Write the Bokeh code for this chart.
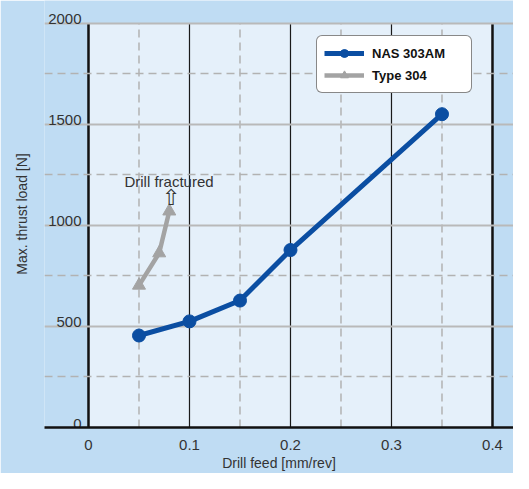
from bokeh.plotting import figure
from bokeh.models import Range1d, FixedTicker, Grid, BoxAnnotation, Label, Legend, LegendItem
from bokeh.core.properties import value
from bokeh.embed import file_html
from bokeh.resources import INLINE

# ---- data ----
feed_nas = [0.05, 0.10, 0.15, 0.20, 0.35]
load_nas = [455, 525, 628, 878, 1550]
feed_304 = [0.05, 0.07, 0.08]
load_304 = [703, 863, 1070]

x_ticks = [0, 0.1, 0.2, 0.3, 0.4]
x_tick_labels = ["0", "0.1", "0.2", "0.3", "0.4"]
y_ticks = [0, 500, 1000, 1500, 2000]
y_tick_labels = ["0", "500", "1000", "1500", "2000"]
x_minor = [0.05, 0.15, 0.25, 0.35]
y_minor = [250, 750, 1250, 1750]
x_inner = [0.1, 0.2, 0.3]
x_edges = [0, 0.4]
y_major_grid = [500, 1000, 1500, 2000]

series_names = ["NAS 303AM", "Type 304"]
note_text = "Drill fractured"
note_x, note_y = 0.0797, 1215
arrow_x, arrow_y = 0.0817, 1140

BG = "#bfdcf3"
PANEL = "#e5f0fa"
BLUE = "#0b4ea2"
GRAY = "#a3a3a3"
FONT = "Liberation Sans"
TXT = "#333333"

Y_MAX = y_ticks[-1]
p = figure(width=513, height=473, output_backend="svg", toolbar_location=None,
           x_range=Range1d(-0.04356, 0.4208), y_range=Range1d(0, 2112.5),
           min_border_left=44, min_border_right=0, min_border_top=0, min_border_bottom=41)
p.background_fill_color = BG
p.border_fill_color = BG
p.outline_line_color = None
p.grid.visible = False

# light panel
p.add_layout(BoxAnnotation(left=x_edges[0], right=x_edges[1], bottom=y_ticks[0], top=Y_MAX,
                           fill_color=PANEL, fill_alpha=1, line_color=None, level="image"))

def add_hgrid(ticks, color, width, dash="solid"):
    g = Grid(dimension=1, ticker=FixedTicker(ticks=ticks), grid_line_color=color,
             grid_line_width=width, grid_line_dash=dash)
    p.add_layout(g)

add_hgrid(y_minor, "#b2b2b2", 1.5, "8 5")
add_hgrid(y_major_grid, "#b9b9b9", 1.8)

def add_vlines(xs, color, width, dash="solid"):
    p.segment(x0=xs, y0=[y_ticks[0]] * len(xs), x1=xs, y1=[Y_MAX] * len(xs),
              line_color=color, line_width=width, line_dash=dash, level="underlay")

add_vlines(x_minor, "#b2b2b2", 1.5, "8 5")
add_vlines(x_inner, "#1a1a1a", 1.2)
add_vlines(x_edges, "#111111", 2.5)

# axes
xa = p.xaxis[0]
xa.ticker = FixedTicker(ticks=x_ticks)
xa.major_label_overrides = {t: l for t, l in zip(x_ticks, x_tick_labels)}
xa.major_tick_line_color = None
xa.minor_tick_line_color = None
xa.axis_line_color = "#111111"
xa.axis_line_width = 2.5
xa.major_label_standoff = 6
xa.major_label_text_font = FONT
xa.major_label_text_font_size = "15px"
xa.major_label_text_color = TXT
xa.axis_label = "Drill feed [mm/rev]"
xa.axis_label_text_font = FONT
xa.axis_label_text_font_size = "14px"
xa.axis_label_text_font_style = "normal"
xa.axis_label_text_color = TXT
xa.axis_label_standoff = 2

ya = p.yaxis[0]
ya.ticker = FixedTicker(ticks=[])
ya.major_label_standoff = 0
ya.major_tick_line_color = None
ya.minor_tick_line_color = None
ya.axis_line_color = None
ya.axis_label = "Max. thrust load [N]"
ya.axis_label_text_font = FONT
ya.axis_label_text_font_size = "14px"
ya.axis_label_text_font_style = "normal"
ya.axis_label_text_color = TXT
ya.axis_label_standoff = 15

# y tick labels sitting above the gridlines
p.text(x=[-0.0069] * len(y_ticks), y=y_ticks, text=y_tick_labels,
       text_align="right", text_baseline="alphabetic", y_offset=-4,
       text_font=value(FONT), text_font_size=value("15px"), text_color=TXT)

# data
r1 = p.line(feed_nas, load_nas, line_color=BLUE, line_width=5)
r2 = p.scatter(feed_nas, load_nas, marker="circle", size=13, fill_color=BLUE, line_color=BLUE)
r3 = p.line(feed_304, load_304, line_color=GRAY, line_width=4.5)
r4 = p.scatter(feed_304, load_304, marker="triangle", size=13, fill_color=GRAY, line_color=GRAY)

# annotation
p.add_layout(Label(x=note_x, y=note_y, text=note_text, text_align="center", text_baseline="alphabetic",
                   text_font=FONT, text_font_size="15px", text_color=TXT))
p.add_layout(Label(x=arrow_x, y=arrow_y, text="\u21e7", text_align="center", text_baseline="middle",
                   text_font="DejaVu Sans", text_font_size="22px", text_color=TXT))

legend = Legend(items=[LegendItem(label=series_names[0], renderers=[r1, r2]),
                       LegendItem(label=series_names[1], renderers=[r3, r4])],
                location=(272, 334), orientation="vertical",
                background_fill_color="white", background_fill_alpha=1,
                border_line_color="#111111", border_line_width=1, border_radius=6,
                padding=7, spacing=2, glyph_width=40, glyph_height=20, label_standoff=8,
                label_width=92, label_text_font=FONT, label_text_font_size="13px",
                label_text_font_style="bold", label_text_color="#111111", margin=0)
p.add_layout(legend)

open("out.html", "w").write(file_html(p, INLINE))
